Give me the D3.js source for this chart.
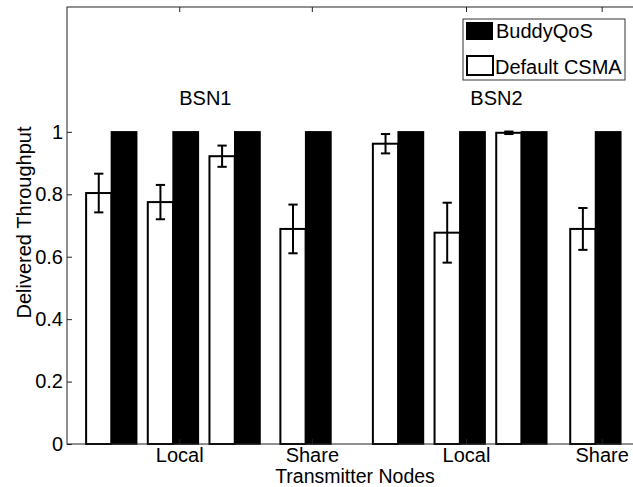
<!DOCTYPE html>
<html>
<head>
<meta charset="utf-8">
<script src="https://cdn.jsdelivr.net/npm/d3@7"></script>
<style>
  html, body { margin: 0; padding: 0; background: #fff; }
  svg { display: block; }
  text { font-family: "Liberation Sans", Arial, Helvetica, sans-serif; fill: #000; }
</style>
</head>
<body>
<svg id="chart" width="633" height="487"></svg>
<script>
// Transmitter nodes of the two body sensor networks, in axis units
const nodeNetwork   = ["BSN1", "BSN1", "BSN1", "BSN1", "BSN2", "BSN2", "BSN2", "BSN2"];
const nodePositions = [1, 2, 3, 4.15, 5.65, 6.65, 7.65, 8.85];

// Delivered throughput per node
const buddyQoS    = [1, 1, 1, 1, 1, 1, 1, 1];
const defaultCsma = [0.804, 0.775, 0.922, 0.689, 0.962, 0.677, 0.997, 0.689];
const csmaError   = [0.062, 0.055, 0.034, 0.078, 0.031, 0.096, 0.004, 0.067];

// Node-type tick marks along the x axis
const xTickPositions = [2.1, 4.25, 6.75, 8.95];
const xTickLabels    = ["Local", "Share", "Local", "Share"];
const yTickValues    = [0, 0.2, 0.4, 0.6, 0.8, 1];

// Network name annotations
const networkLabels    = ["BSN1", "BSN2"];
const networkLabelX    = [2.1, 6.82];
const networkLabelY    = 1.085;

const seriesNames = ["BuddyQoS", "Default CSMA"];

const svg = d3.select("#chart");
const plot = { left: 67, right: 643, top: 7, bottom: 444 };

const x = d3.scaleLinear().domain([0.28, 9.62]).range([plot.left, plot.right]);
const y = d3.scaleLinear().domain([0, 1.4]).range([plot.bottom, plot.top]);
const barW = 0.41; // width of a single bar, axis units

svg.append("rect").attr("width", 633).attr("height", 487).attr("fill", "#fff");

const g = svg.append("g");

// Default CSMA bars (white, outlined)
g.selectAll("rect.csma")
  .data(defaultCsma)
  .join("rect")
  .attr("class", "csma")
  .attr("x", (d, i) => x(nodePositions[i] - barW))
  .attr("y", d => y(d))
  .attr("width", (d, i) => x(nodePositions[i]) - x(nodePositions[i] - barW))
  .attr("height", d => y(0) - y(d))
  .attr("fill", "#fff")
  .attr("stroke", "#000")
  .attr("stroke-width", 2);

// BuddyQoS bars (solid black)
g.selectAll("rect.buddy")
  .data(buddyQoS)
  .join("rect")
  .attr("class", "buddy")
  .attr("x", (d, i) => x(nodePositions[i]))
  .attr("y", d => y(d))
  .attr("width", (d, i) => x(nodePositions[i] + barW) - x(nodePositions[i]))
  .attr("height", d => y(0) - y(d))
  .attr("fill", "#000")
  .attr("stroke", "#000")
  .attr("stroke-width", 1.5);

// Error bars on the Default CSMA series
const capHalf = 0.075;
const err = g.selectAll("g.err")
  .data(defaultCsma.map((v, i) => ({ v, e: csmaError[i], p: nodePositions[i] - barW / 2 })))
  .join("g")
  .attr("class", "err")
  .attr("stroke", "#000")
  .attr("stroke-width", 2);
err.append("line")
  .attr("x1", d => x(d.p)).attr("x2", d => x(d.p))
  .attr("y1", d => y(d.v - d.e)).attr("y2", d => y(d.v + d.e));
err.append("line")
  .attr("x1", d => x(d.p - capHalf)).attr("x2", d => x(d.p + capHalf))
  .attr("y1", d => y(d.v + d.e)).attr("y2", d => y(d.v + d.e));
err.append("line")
  .attr("x1", d => x(d.p - capHalf)).attr("x2", d => x(d.p + capHalf))
  .attr("y1", d => y(d.v - d.e)).attr("y2", d => y(d.v - d.e));

// Axes frame
svg.append("rect")
  .attr("x", plot.left).attr("y", plot.top)
  .attr("width", plot.right - plot.left).attr("height", plot.bottom - plot.top)
  .attr("fill", "none").attr("stroke", "#222").attr("stroke-width", 1);

// Y axis
const yAxis = svg.append("g")
  .attr("transform", `translate(${plot.left},0)`)
  .call(d3.axisLeft(y).tickValues(yTickValues).tickSize(-5).tickPadding(4).tickFormat(d3.format("~g")));
yAxis.select(".domain").remove();
yAxis.selectAll("text").attr("font-size", 20).style("font-family", "'Liberation Sans', Arial, sans-serif");
yAxis.selectAll("line").attr("stroke", "#222");

// Top axis ticks
const topAxis = svg.append("g")
  .attr("transform", `translate(0,${plot.top})`)
  .call(d3.axisTop(x).tickValues(xTickPositions).tickSize(-5).tickFormat(""));
topAxis.select(".domain").remove();
topAxis.selectAll("line").attr("stroke", "#222");

// Bottom axis with node type labels
const xAxis = svg.append("g")
  .attr("transform", `translate(0,${plot.bottom})`)
  .call(d3.axisBottom(x).tickValues(xTickPositions).tickSize(-5).tickPadding(4)
    .tickFormat((d, i) => xTickLabels[i]));
xAxis.select(".domain").remove();
xAxis.selectAll("text").attr("font-size", 20).style("font-family", "'Liberation Sans', Arial, sans-serif");
xAxis.selectAll("line").attr("stroke", "#222");

// Axis titles
svg.append("text")
  .attr("x", (plot.left + plot.right) / 2)
  .attr("y", 483)
  .attr("text-anchor", "middle")
  .attr("font-size", 19.5)
  .text("Transmitter Nodes");

svg.append("text")
  .attr("transform", `translate(31,${(plot.top + plot.bottom) / 2 - 3}) rotate(-90)`)
  .attr("text-anchor", "middle")
  .attr("font-size", 20)
  .text("Delivered Throughput");

// Network annotations
svg.selectAll("text.net")
  .data(networkLabels)
  .join("text")
  .attr("class", "net")
  .attr("x", (d, i) => x(networkLabelX[i]))
  .attr("y", y(networkLabelY))
  .attr("font-size", 20)
  .text(d => d);

// Legend
const legend = svg.append("g").attr("transform", "translate(463,19)");
legend.append("rect")
  .attr("width", 162).attr("height", 61)
  .attr("fill", "#fff").attr("stroke", "#333").attr("stroke-width", 1);
legend.append("rect")
  .attr("x", 3).attr("y", 3).attr("width", 27).attr("height", 18)
  .attr("fill", "#000");
legend.append("rect")
  .attr("x", 4).attr("y", 37).attr("width", 26).attr("height", 19)
  .attr("fill", "#fff").attr("stroke", "#000").attr("stroke-width", 2);
legend.append("text").attr("x", 33).attr("y", 19).attr("font-size", 20).text(seriesNames[0]);
legend.append("text").attr("x", 32).attr("y", 55).attr("font-size", 20).text(seriesNames[1]);
</script>
</body>
</html>
